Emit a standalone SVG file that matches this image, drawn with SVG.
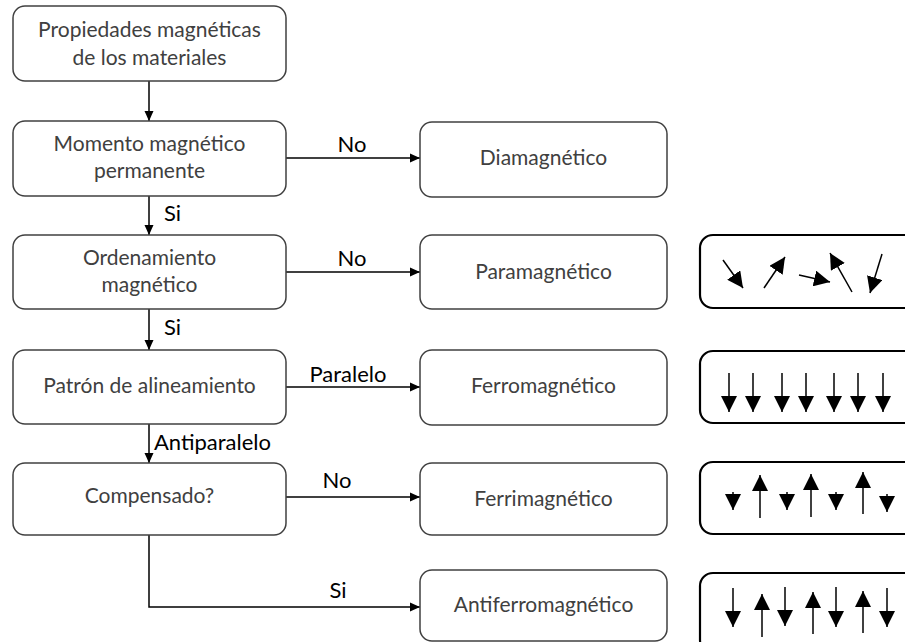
<svg xmlns="http://www.w3.org/2000/svg" width="905" height="642" viewBox="0 0 905 642">
<defs>
<style>
.node{fill:#fff;stroke:#404040;stroke-width:1.5}
.spinbox{fill:#fff;stroke:#000;stroke-width:2.2}
.t{font-family:Lato,"Liberation Sans",sans-serif;font-size:21px;fill:#404040;text-anchor:middle}
.lbl{font-family:Lato,"Liberation Sans",sans-serif;font-size:22px;fill:#000}
.c{fill:none;stroke:#000;stroke-width:1.5;marker-end:url(#ah)}
.s{fill:none;stroke:#000;stroke-width:1.5;marker-end:url(#sh)}
</style>
<marker id="ah" markerUnits="userSpaceOnUse" markerWidth="10" markerHeight="10" viewBox="0 0 10 10" refX="10" refY="5" orient="auto"><path d="M0,0.5 L10,5 L0,9.5 z" fill="#000"/></marker>
<marker id="sh" markerUnits="userSpaceOnUse" markerWidth="16" markerHeight="16" viewBox="0 0 16 16" refX="16" refY="8" orient="auto"><path d="M0,0 L16,8 L0,16 z" fill="#000"/></marker>
</defs>
<rect width="905" height="642" fill="#fff"/>
<g id="connectors">
<path class="c" d="M149,81 V121"/>
<path class="c" d="M149,196 V235"/>
<path class="c" d="M149,309 V350"/>
<path class="c" d="M149,424 V463"/>
<path class="c" d="M286,158 H420"/>
<path class="c" d="M286,272 H420"/>
<path class="c" d="M286,387 H420"/>
<path class="c" d="M286,497 H420"/>
<path class="c" d="M149,535 V607 H420"/>
<text class="lbl" x="352" y="152" text-anchor="middle">No</text>
<text class="lbl" x="164" y="221">Si</text>
<text class="lbl" x="352" y="266" text-anchor="middle">No</text>
<text class="lbl" x="164" y="335">Si</text>
<text class="lbl" x="348" y="382" text-anchor="middle">Paralelo</text>
<text class="lbl" x="154" y="450">Antiparalelo</text>
<text class="lbl" x="337" y="488" text-anchor="middle">No</text>
<text class="lbl" x="338" y="598" text-anchor="middle">Si</text>
</g>
<g id="n1"><rect class="node" x="13" y="6" width="273" height="75" rx="12"/><text class="t" x="149.5" y="37">Propiedades magnéticas</text><text class="t" x="149.5" y="65">de los materiales</text></g>
<g id="n2"><rect class="node" x="13" y="121" width="273" height="75" rx="12"/><text class="t" x="149.5" y="151">Momento magnético</text><text class="t" x="149.5" y="178">permanente</text></g>
<g id="n3"><rect class="node" x="13" y="235" width="273" height="74" rx="12"/><text class="t" x="149.5" y="265">Ordenamiento</text><text class="t" x="149.5" y="292">magnético</text></g>
<g id="n4"><rect class="node" x="13" y="350" width="273" height="74" rx="12"/><text class="t" x="149.5" y="393">Patrón de alineamiento</text></g>
<g id="n5"><rect class="node" x="13" y="463" width="273" height="72" rx="12"/><text class="t" x="149.5" y="503">Compensado?</text></g>
<g id="dia"><rect class="node" x="420" y="122" width="247" height="75" rx="12"/><text class="t" x="543.5" y="165">Diamagnético</text></g>
<g id="para"><rect class="node" x="420" y="235" width="247" height="74" rx="12"/><text class="t" x="543.5" y="279">Paramagnético</text></g>
<g id="ferro"><rect class="node" x="420" y="350" width="247" height="75" rx="12"/><text class="t" x="543.5" y="393">Ferromagnético</text></g>
<g id="ferri"><rect class="node" x="420" y="463" width="247" height="72" rx="12"/><text class="t" x="543.5" y="506">Ferrimagnético</text></g>
<g id="antiferro"><rect class="node" x="420" y="570" width="247" height="71" rx="12"/><text class="t" x="543.5" y="612">Antiferromagnético</text></g>
<g id="spin-para"><rect class="spinbox" x="700" y="235" width="230" height="73" rx="13"/>
<path class="s" d="M723,260 L743,288"/><path class="s" d="M764,288 L785,257"/><path class="s" d="M799,275 L830,282"/><path class="s" d="M852,292 L830,253"/><path class="s" d="M882,254 L870,293"/></g>
<g id="spin-ferro"><rect class="spinbox" x="700" y="351" width="230" height="72" rx="13"/>
<path class="s" d="M729,373 V412"/><path class="s" d="M753,373 V412"/><path class="s" d="M782,373 V412"/><path class="s" d="M806,373 V412"/><path class="s" d="M834,373 V412"/><path class="s" d="M858,373 V412"/><path class="s" d="M883,373 V412"/></g>
<g id="spin-ferri"><rect class="spinbox" x="700" y="462" width="230" height="72" rx="13"/>
<path class="s" d="M733,492 V510"/><path class="s" d="M787,492 V510"/><path class="s" d="M836,492 V510"/><path class="s" d="M887,494 V512"/><path class="s" d="M760,518 V475"/><path class="s" d="M811,517 V474"/><path class="s" d="M863,514 V472"/></g>
<g id="spin-antiferro"><rect class="spinbox" x="700" y="573" width="230" height="80" rx="13"/>
<path class="s" d="M733,588 V627"/><path class="s" d="M785,587 V626"/><path class="s" d="M836,587 V627"/><path class="s" d="M887,588 V627"/><path class="s" d="M762,637 V594"/><path class="s" d="M813,634 V592"/><path class="s" d="M863,633 V591"/></g>
</svg>
